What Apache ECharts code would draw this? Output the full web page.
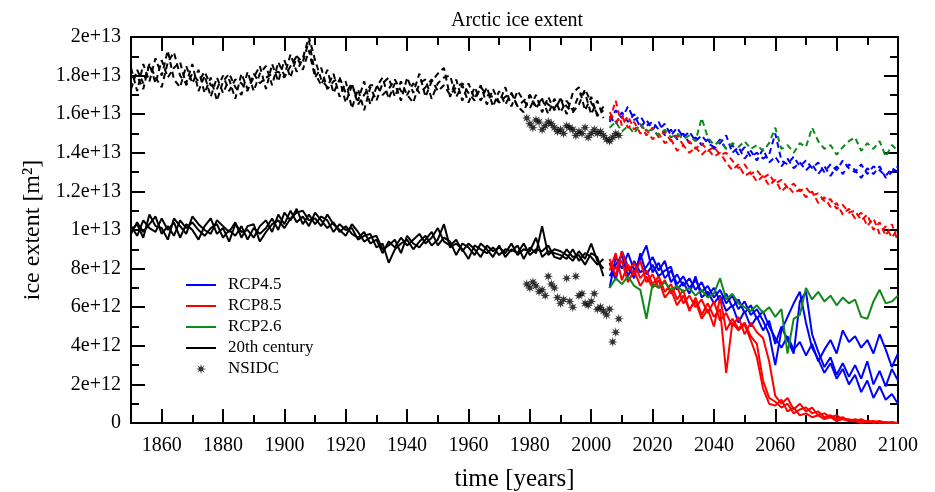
<!DOCTYPE html>
<html><head><meta charset="utf-8">
<script src="https://cdn.jsdelivr.net/npm/echarts@6/dist/echarts.min.js"></script>
<style>html,body{margin:0;padding:0;background:#fff}#c{width:935px;height:492px}</style>
</head><body><div id="c"></div>
<script>
// ---------- data (values in units of 1e12 m^2) ----------
function yearSeq(a, b, s) { const r = []; for (let y = a; y <= b; y += s) r.push(y); return r; }
const histYears = yearSeq(1850, 2004, 2);   // 78 years
const futYears = yearSeq(2006, 2100, 2);    // 48 years
const nsidcYears = yearSeq(1979, 2009, 1);  // 31 years

// 20th century, lower (solid)
const hist_low_a = [10.2,9.7,10.5,10.1,9.9,10.6,10.0,10.4,9.6,10.3, 10.0,9.5,10.2,10.6,9.8,10.1,9.4,10.3,9.9,10.0, 9.6,10.2,10.5,9.9,10.8,10.3,11.0,10.4,10.7,10.2, 10.9,10.5,10.1,10.4,9.9,10.2,9.8,9.6,9.9,9.3, 9.5,8.8,9.4,9.1,9.6,9.2,9.5,9.8,9.3,9.6, 10.1,9.4,9.2,9.5,8.9,9.3,9.0,8.6,9.2,8.9, 9.1,8.8,9.3,8.7,9.0,8.9,9.6,8.6,8.9,8.8, 8.7,8.5,9.0,8.4,8.8,8.6,8.2,8.5];
const hist_low_b = [9.8,10.4,9.9,10.3,10.7,9.8,10.2,9.7,10.5,10.1, 10.4,10.0,9.7,10.1,10.3,9.6,10.0,9.7,10.2,9.5, 10.1,9.8,10.1,10.6,10.0,10.9,10.5,11.1,10.3,10.8, 10.3,10.7,10.5,9.9,10.3,10.0,10.1,9.5,9.7,9.8, 9.1,9.3,8.3,9.0,9.3,9.5,9.0,9.4,9.7,9.2, 9.5,10.3,9.1,9.3,9.0,8.5,9.2,9.0,8.8,9.1, 8.7,9.0,8.9,9.2,8.5,9.1,8.8,10.2,8.7,9.0, 8.9,8.7,8.4,8.9,8.5,9.3,8.4,8.0];
const hist_low_c = [10.0,10.3,9.6,10.8,10.2,10.1,9.5,10.6,10.2,9.8, 10.7,10.3,10.0,9.8,10.5,10.2,9.9,10.4,9.6,10.2, 10.3,9.4,9.9,10.3,10.5,10.1,10.6,10.9,11.0,10.5, 10.6,10.2,10.8,10.3,10.0,9.7,10.3,9.9,9.4,9.6, 9.7,9.0,9.2,9.5,8.8,9.7,9.3,9.1,9.5,9.9, 9.2,9.6,9.4,8.7,9.3,9.1,8.7,9.3,9.0,8.6, 9.2,8.6,9.0,8.8,9.3,8.7,9.0,8.9,9.2,8.6, 8.5,9.0,8.6,8.7,8.2,8.8,8.6,7.6];
// 20th century, upper (dashed)
const hist_up_a = [17.3,18.3,17.6,18.6,17.9,17.4,18.7,19.2,18.0,17.6, 18.6,17.2,18.0,16.9,17.9,17.1,17.8,16.8,18.1,17.3, 17.9,18.5,17.3,18.6,17.7,18.8,17.9,19.0,18.7,19.8, 18.1,17.5,18.3,17.1,17.8,16.6,17.5,16.7,17.7,16.5, 17.4,17.9,16.8,17.6,16.7,17.9,17.1,18.1,16.9,17.7, 18.1,18.4,16.9,17.8,16.7,17.6,16.8,17.5,16.5,17.3, 16.6,17.4,16.4,17.2,16.7,16.3,17.0,16.1,16.9,16.2, 16.8,16.0,17.1,17.4,16.2,16.9,15.9,16.4];
const hist_up_b = [18.4,17.2,18.6,17.7,18.9,18.0,19.3,17.8,17.4,18.5, 17.6,18.3,17.1,17.9,16.7,17.7,18.1,17.4,17.0,18.2, 17.2,18.1,18.5,17.5,18.7,18.0,19.1,18.2,18.9,20.0, 18.8,17.8,17.4,18.1,16.9,17.7,16.3,17.3,16.2,17.4, 16.7,17.6,17.9,16.9,17.7,17.0,16.6,17.6,17.8,16.8, 17.6,17.9,18.0,16.9,17.5,16.6,17.4,16.7,17.4,16.4, 17.2,16.5,17.1,16.4,16.1,17.0,16.3,16.8,16.0,16.8, 16.1,16.7,16.2,17.0,17.1,16.0,16.7,15.8];
const hist_up_c = [17.9,18.0,17.3,18.6,17.6,18.8,17.9,18.4,18.7,17.5, 18.1,17.7,18.2,17.5,17.3,18.0,17.2,17.8,17.6,17.2, 18.1,17.6,17.9,18.1,18.2,17.9,18.5,19.0,18.3,19.3, 17.9,18.4,17.3,17.7,17.9,17.1,17.6,16.5,17.0,17.5, 17.5,17.0,17.3,17.8,17.2,17.0,17.6,17.1,17.4,17.8, 17.2,17.5,17.0,17.4,17.6,17.1,16.7,17.4,17.0,16.9, 16.6,16.9,17.1,16.4,16.7,17.0,16.4,16.8,16.5,16.3, 16.8,16.4,16.1,16.5,17.3,16.6,16.0,16.2];

// RCP4.5
const rcp45_low_a = [7.0,8.6,8.0,8.8,7.9,8.5,9.2,7.8, 8.3,7.5,7.9,7.2,7.6,7.0,7.4,6.8, 7.1,6.5,6.9,6.2,6.6,5.9,6.3,5.6, 5.9,5.3,4.6,3.0,4.8,5.5,6.2,6.8, 5.2,3.9,3.3,2.6,3.1,2.3,2.8,2.0, 2.5,1.6,2.2,1.3,1.9,1.2,1.5,1.0];
const rcp45_low_b = [7.6,8.2,8.7,7.6,8.4,7.8,8.1,8.6, 7.9,8.4,7.3,7.7,7.1,7.5,6.9,7.3, 6.6,7.0,6.3,6.7,6.0,6.4,5.7,6.1, 5.4,5.8,5.0,4.4,3.9,4.5,3.8,4.2, 3.5,4.1,3.2,3.8,4.3,3.6,4.8,4.2, 4.5,3.9,4.3,3.6,4.6,3.8,2.9,3.6];
const rcp45_low_c = [8.3,7.4,8.9,8.1,7.5,8.8,7.7,8.2, 7.6,7.9,8.1,6.9,7.3,6.7,7.6,6.5, 6.8,6.2,6.6,5.8,6.1,5.2,5.8,5.0, 5.5,4.8,5.3,4.1,5.0,4.3,3.6,6.3, 6.8,4.6,3.7,2.9,3.4,2.5,3.1,2.4, 3.0,2.3,3.2,2.0,2.7,1.9,2.8,2.2];
const rcp45_up_a = [15.6,16.2,15.8,16.4,15.7,15.9,15.4,15.6, 15.2,15.5,14.9,15.3,14.8,15.1,14.6,14.9, 14.5,14.3,14.7,14.2,14.4,13.9,14.3,13.8, 14.0,13.7,13.9,15.0,13.6,13.4,13.8,13.3, 13.6,13.2,13.5,13.0,13.4,13.1,13.6,13.2, 13.0,13.4,12.9,13.3,13.1,12.8,13.2,13.0];
const rcp45_up_b = [15.9,15.5,16.1,15.6,16.0,15.3,15.7,15.2, 15.6,14.9,15.2,14.7,15.0,14.5,14.8,14.4, 14.7,14.2,14.5,14.9,14.0,14.3,13.7,14.1, 13.6,14.2,13.5,13.8,13.3,13.7,13.2,13.5, 13.1,13.4,12.9,13.3,12.8,13.3,12.9,13.4, 13.1,12.7,13.2,12.9,13.3,12.7,13.0,13.3];
// RCP8.5
const rcp85_low_a = [8.5,7.6,8.9,7.9,8.3,7.5,7.9,7.2, 7.6,6.8,7.2,6.4,6.9,5.8,6.5,5.6, 6.2,5.5,5.9,2.6,5.2,4.8,5.1,4.3, 3.4,1.8,1.0,0.9,1.2,0.6,0.8,0.4, 0.5,0.3,0.4,0.2,0.3,0.1,0.2,0.1, 0.1,0.0,0.1,0.0,0.05,0.0,0.0,0.0];
const rcp85_low_b = [7.9,8.8,7.4,8.2,7.7,8.4,7.3,7.7, 7.0,7.4,6.7,7.1,6.2,6.6,6.0,6.4, 5.7,6.3,5.3,5.7,5.0,5.5,4.6,5.2, 4.7,4.4,3.2,1.4,1.0,1.3,0.7,1.0, 0.6,0.8,0.4,0.5,0.3,0.4,0.2,0.2, 0.1,0.2,0.05,0.1,0.0,0.05,0.0,0.0];
const rcp85_low_c = [8.2,8.0,8.4,7.3,7.9,7.1,7.6,7.0, 7.4,6.5,6.9,6.1,6.6,5.9,6.3,5.4, 5.9,5.0,6.5,4.8,5.4,4.9,5.2,4.5, 4.1,2.2,1.3,1.1,0.8,1.0,0.5,0.7, 0.8,0.5,0.6,0.3,0.4,0.2,0.3,0.1, 0.2,0.1,0.1,0.05,0.1,0.0,0.05,0.0];
const rcp85_up_a = [15.7,16.7,15.4,15.9,15.2,15.5,14.9,15.3, 14.8,15.1,14.6,14.9,14.4,14.6,14.2,14.5, 14.1,14.3,13.9,14.0,13.6,13.2,13.4,12.9, 13.1,12.7,12.9,12.4,12.6,12.2,12.4,12.0, 12.2,11.8,11.9,11.5,11.6,11.1,11.3,10.9, 11.0,10.5,10.8,10.0,10.4,9.7,10.3,9.4];
const rcp85_up_b = [16.1,15.6,15.9,15.3,15.6,15.0,15.2,14.7, 15.0,14.5,14.7,14.1,14.4,14.0,14.3,13.9, 14.2,13.8,14.0,13.5,13.1,13.4,12.8,13.0, 12.5,12.8,12.3,12.6,12.0,12.3,11.9,12.1, 11.7,12.0,11.4,11.7,11.2,11.4,10.8,11.1, 10.6,10.9,10.2,10.6,9.8,10.2,9.6,10.1];
// RCP2.6
const rcp26_low = [7.0,7.5,7.2,7.6,7.1,6.9,5.4,7.2, 7.0,7.3,6.9,7.1,6.8,7.0,6.6,6.9, 6.5,6.7,7.5,6.4,6.7,6.2,6.0,5.8, 6.1,5.7,6.0,5.5,5.9,3.6,5.4,5.6, 7.0,6.4,6.8,6.3,6.6,6.1,6.5,6.2, 6.4,5.5,5.4,6.3,6.9,6.2,6.3,6.6];
const rcp26_up = [15.3,15.6,15.1,15.4,15.0,15.5,15.1,15.2, 14.9,15.2,14.8,15.0,14.7,14.9,14.6,15.8, 14.8,14.4,14.6,14.2,14.5,14.3,14.6,14.2, 14.4,14.1,14.5,15.3,14.2,14.4,14.0,14.5, 14.3,15.3,14.6,14.2,14.4,13.9,14.3,14.6, 14.8,14.1,14.5,14.2,14.6,13.8,14.4,14.1];
// NSIDC observations
const nsidc_low = [7.2,7.0,7.3,7.1,6.8,6.9,6.6,7.6,7.2,7.0, 6.5,6.2,6.4,7.5,6.3,6.0,7.6,6.6,6.7,6.2, 6.1,6.3,6.7,5.9,6.0,5.8,5.6,5.9,4.2,4.7,5.4];
const nsidc_up = [15.8,15.5,15.3,15.7,15.6,15.2,15.4,15.6,15.5,15.3, 15.1,15.2,15.0,15.4,15.3,15.2,14.9,15.1,15.0,15.3, 14.8,15.0,15.2,15.0,15.1,14.9,14.7,14.6,14.8,15.0,14.9];

// axis ticks / labels
const xMajorTicks = [1860,1880,1900,1920,1940,1960,1980,2000,2020,2040,2060,2080,2100];
const xMinorTicks = [1850,1870,1890,1910,1930,1950,1970,1990,2010,2030,2050,2070,2090];
const yTickLabels = ['0','2e+12','4e+12','6e+12','8e+12','1e+13','1.2e+13','1.4e+13','1.6e+13','1.8e+13','2e+13'];
const legendNames = ['RCP4.5','RCP8.5','RCP2.6','20th century','NSIDC'];

// ---------- chart ----------
const FONT = 'Liberation Serif';
const BLUE = '#0000ff', RED = '#ff0000', GREEN = '#10891a', BLACK = '#000000';
const pair = (xs, ys) => xs.map((x, i) => [x, ys[i]]);
function line(name, xs, ys, color, dashed) {
  return { name, type: 'line', data: pair(xs, ys), symbol: 'none', showSymbol: false,
    lineStyle: { color, width: 2, type: dashed ? [6, 4] : 'solid' }, itemStyle: { color },
    emphasis: { disabled: true }, silent: true };
}
const STAR = 'path://M20 10 L13.7 11.53 L17.07 17.07 L11.53 13.7 L10 20 L8.47 13.7 L2.93 17.07 L6.3 11.53 L0 10 L6.3 8.47 L2.93 2.93 L8.47 6.3 L10 0 L11.53 6.3 L17.07 2.93 L13.7 8.47 Z';
function stars(ys) {
  return { name: 'NSIDC', type: 'scatter', data: pair(nsidcYears, ys), symbol: STAR, symbolSize: 10,
    symbolKeepAspect: true, itemStyle: { color: BLACK }, silent: true };
}

const axisLine = { show: true, onZero: false, lineStyle: { color: BLACK, width: 2 } };
const tickStyle = { color: BLACK, width: 2 };
const xBase = { type: 'value', min: 1850, max: 2100, splitLine: { show: false }, axisLine };

const legendData = legendNames.map(n => n === 'NSIDC' ? { name: n } : { name: n, itemStyle: { opacity: 0 } });

const chart = echarts.init(document.getElementById('c'), null, { renderer: 'canvas' });
chart.setOption({
  animation: false,
  backgroundColor: '#fff',
  title: { text: 'Arctic ice extent', left: 451, top: 11, padding: 0,
    textStyle: { fontFamily: FONT, fontSize: 20, fontWeight: 'normal', color: BLACK } },
  grid: { left: 131, right: 37, top: 37, bottom: 69, containLabel: false, outerBoundsMode: 'none' },
  legend: {
    data: legendData, orient: 'vertical', left: 180, top: 270,
    itemWidth: 30, itemHeight: 10, itemGap: 1, selectedMode: false,
    textStyle: { fontFamily: FONT, fontSize: 17, color: BLACK, lineHeight: 20, padding: [0, 0, 0, 7] }
  },
  xAxis: [
    Object.assign({}, xBase, { position: 'bottom', name: 'time [years]', nameLocation: 'middle', nameGap: 44,
      nameTextStyle: { fontFamily: FONT, fontSize: 25, color: BLACK },
      axisTick: { show: true, inside: true, length: 14, lineStyle: tickStyle, customValues: xMajorTicks },
      axisLabel: { show: true, margin: 13, fontFamily: FONT, fontSize: 20, color: BLACK,
        customValues: xMajorTicks, formatter: v => String(v) } }),
    Object.assign({}, xBase, { position: 'bottom',
      axisTick: { show: true, inside: true, length: 8, lineStyle: tickStyle, customValues: xMinorTicks },
      axisLabel: { show: false } }),
    Object.assign({}, xBase, { position: 'top',
      axisTick: { show: true, inside: true, length: 14, lineStyle: tickStyle, customValues: xMajorTicks },
      axisLabel: { show: false } }),
    Object.assign({}, xBase, { position: 'top',
      axisTick: { show: true, inside: true, length: 8, lineStyle: tickStyle, customValues: xMinorTicks },
      axisLabel: { show: false } })
  ],
  yAxis: [
    { type: 'value', min: 0, max: 20, interval: 2, position: 'left', splitLine: { show: false }, axisLine,
      name: 'ice extent [m²]', nameLocation: 'middle', nameGap: 86,
      nameTextStyle: { fontFamily: FONT, fontSize: 24, color: BLACK },
      axisTick: { show: true, inside: true, length: 14, lineStyle: tickStyle },
      minorTick: { show: true, splitNumber: 2, length: 8, lineStyle: tickStyle },
      axisLabel: { margin: 10, fontFamily: FONT, fontSize: 20, color: BLACK,
        formatter: v => yTickLabels[Math.round(v / 2)] } },
    { type: 'value', min: 0, max: 20, interval: 2, position: 'right', splitLine: { show: false }, axisLine,
      axisTick: { show: true, inside: true, length: 14, lineStyle: tickStyle },
      minorTick: { show: true, splitNumber: 2, length: 8, lineStyle: tickStyle },
      axisLabel: { show: false } }
  ],
  series: [
    line('20th century', histYears, hist_low_a, BLACK, false),
    line('20th century', histYears, hist_low_b, BLACK, false),
    line('20th century', histYears, hist_low_c, BLACK, false),
    line('20th century', histYears, hist_up_a, BLACK, true),
    line('20th century', histYears, hist_up_b, BLACK, true),
    line('20th century', histYears, hist_up_c, BLACK, true),
    stars(nsidc_low),
    stars(nsidc_up),
    line('RCP4.5', futYears, rcp45_low_a, BLUE, false),
    line('RCP4.5', futYears, rcp45_low_b, BLUE, false),
    line('RCP4.5', futYears, rcp45_low_c, BLUE, false),
    line('RCP4.5', futYears, rcp45_up_a, BLUE, true),
    line('RCP4.5', futYears, rcp45_up_b, BLUE, true),
    line('RCP8.5', futYears, rcp85_low_a, RED, false),
    line('RCP8.5', futYears, rcp85_low_b, RED, false),
    line('RCP8.5', futYears, rcp85_low_c, RED, false),
    line('RCP8.5', futYears, rcp85_up_a, RED, true),
    line('RCP8.5', futYears, rcp85_up_b, RED, true),
    line('RCP2.6', futYears, rcp26_low, GREEN, false),
    line('RCP2.6', futYears, rcp26_up, GREEN, true)
  ]
});
</script>
</body></html>
